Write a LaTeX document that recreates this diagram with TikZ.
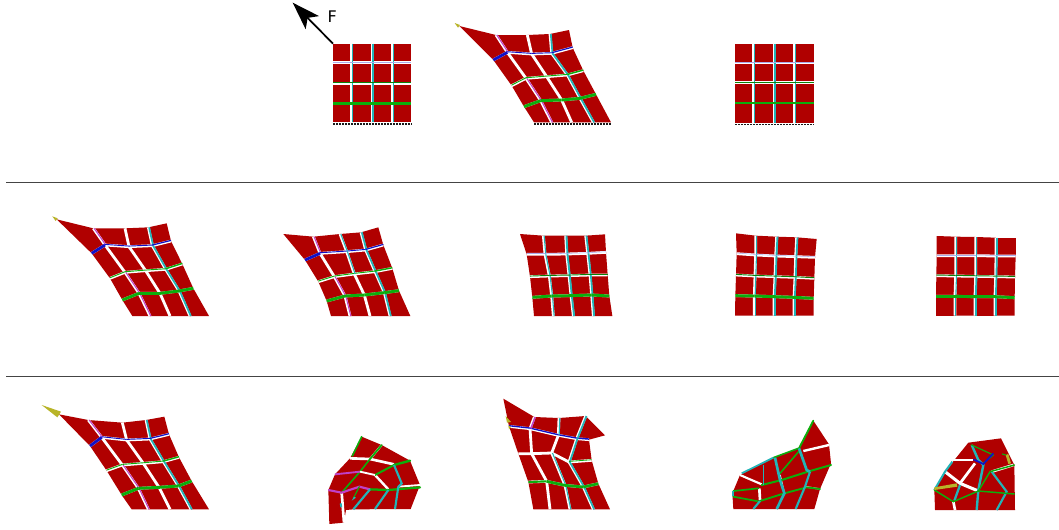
\documentclass[tikz,border=0pt]{standalone}
\usepackage{fontspec}
\setmainfont{DejaVu Sans}
\usetikzlibrary{arrows.meta}
\definecolor{mred}{HTML}{B00000}
\definecolor{mcy}{HTML}{22B4B8}
\definecolor{mgr}{HTML}{0CAE0C}
\definecolor{mbl}{HTML}{1010C8}
\definecolor{mmg}{HTML}{C040C8}
\definecolor{myl}{HTML}{B8B428}
\definecolor{rulec}{HTML}{444444}
\tikzset{
  cellfill/.style={fill=mred},
  gapline/.style={draw=white,line width=2.1pt},
  ground/.style={draw=black!90,line width=1pt,dash pattern=on 1.5pt off .75pt},
  seprule/.style={draw=rulec,line width=.75pt},
  gr/.style={draw=mgr,line width=#1pt,line cap=round},
  cy/.style={draw=mcy,line width=#1pt},
  mg/.style={draw=mmg,line width=#1pt},
  bl/.style={draw=mbl,line width=#1pt},
  wh/.style={draw=white,line width=#1pt},
}
% zoom-space scope: crop origin, 3 zoom units per pixel
\newcommand\zs[2]{\begin{scope}[shift={(#1,#2)},x=.25pt,y=-.25pt]}
\newcommand\ze{\end{scope}}
\newcommand\gridpts[2]{%
  \foreach[count=\k from 0] \pa/\pb in {#2}{%
    \pgfmathtruncatemacro\gr{floor(\k/5)}%
    \pgfmathtruncatemacro\gc{\k-5*\gr}%
    \coordinate (#1-\gr-\gc) at (\pa,\pb);
  }}
\newcommand\meshbase[1]{%
  \foreach \r in {0,1,2,3}{\foreach \c in {0,1,2,3}{%
    \pgfmathtruncatemacro\rr{\r+1}\pgfmathtruncatemacro\cc{\c+1}%
    \fill[cellfill] (#1-\r-\c)--(#1-\r-\cc)--(#1-\rr-\cc)--(#1-\rr-\c)--cycle;
  }}%
  \foreach \r in {1,2,3}{\draw[gapline] (#1-\r-0)--(#1-\r-1)--(#1-\r-2)--(#1-\r-3)--(#1-\r-4);}%
  \foreach \c in {1,2,3}{\draw[gapline] (#1-0-\c)--(#1-1-\c)--(#1-2-\c)--(#1-3-\c)--(#1-4-\c);}%
}
% coloured segments: name, row or column, index list, colour, width(pt)
\newcommand\rowc[5]{\foreach \j in {#3}{\pgfmathtruncatemacro\jj{\j+1}%
  \draw[draw=#4,line width=#5pt] ([yshift=.45pt]#1-#2-\j)--([yshift=.45pt]#1-#2-\jj);}}
\newcommand\rowf[5]{\foreach \j in {#3}{\pgfmathtruncatemacro\jj{\j+1}%
  \draw[draw=#4,line width=#5pt] (#1-#2-\j)--(#1-#2-\jj);}}
\newcommand\colc[5]{\foreach \j in {#3}{\pgfmathtruncatemacro\jj{\j+1}%
  \draw[draw=#4,line width=#5pt] ([xshift=.6pt]#1-\j-#2)--([xshift=.6pt]#1-\jj-#2);}}
\newcommand\regular[1]{%
  \colc{#1}{1}{0,1,2,3}{mcy}{.8}\colc{#1}{2}{0,1,2,3}{mcy}{1.4}\colc{#1}{3}{0,1,2,3}{mcy}{1.3}%
  \rowc{#1}{1}{0,1,2,3}{mbl!35}{.4}\rowc{#1}{2}{0,1,2,3}{mgr!75!black}{.7}\rowf{#1}{3}{0,1,2,3}{mgr}{2.2}}
\newcommand\sheared[1]{%
  \colc{#1}{1}{0,2,3}{mmg}{.8}\colc{#1}{3}{0,1,2,3}{mcy}{1.3}%
  \rowf{#1}{1}{0}{mbl}{2.1}\rowc{#1}{1}{1,2}{mbl}{.7}\rowc{#1}{1}{3}{mbl}{.9}%
  \rowc{#1}{2}{0,1,2}{mgr}{.7}\rowc{#1}{2}{3}{mgr}{1.1}%
  \rowf{#1}{3}{0,1,2,3}{mgr}{2.2}}
\begin{document}
\begin{tikzpicture}[x=.75pt,y=-.75pt]
\useasboundingbox (0,0) rectangle (1059,529);
\fill[white] (0,0) rectangle (1059,529);
% separators
\coordinate (r1a) at (6,182.5); \coordinate (r1b) at (1059,182.5);
\coordinate (r2a) at (6,376.5); \coordinate (r2b) at (1059,376.5);
\draw[seprule] (r1a)--(r1b);
\draw[seprule] (r2a)--(r2b);

% Mesh A: undeformed with force arrow
\zs{280}{0}
\gridpts{a}{159/131,215/131,277/131,338/131,394/131,
159/188,215/188,277/188,338/188,394/188,
159/250,215/250,277/250,338/250,394/250,
159/310,215/310,277/310,338/310,394/310,
159/367,215/367,277/367,338/367,394/367}
\meshbase{a}\regular{a}
\draw[ground] ([yshift=-1.3pt]a-4-0)--([yshift=-1.3pt]a-4-4);
\coordinate (ftip) at (38,8);
\draw[line width=1.3pt,-{Stealth[length=21pt,width=14pt,inset=5pt]}] (a-0-0)--(ftip);
\node[font=\fontsize{12}{14}\selectfont,inner sep=0pt] (flabel) at (157,50) {F};
\ze

% Mesh B
\zs{450}{15}
\gridpts{b}{28/33,138/60,232/60,300/57,357/45,
130/135,172/112,245/117,305/115,368/98,
185/212,228/190,290/185,352/180,400/167,
222/275,272/257,335/255,390/250,438/238,
252/322,305/322,365/322,430/322,483/322}
\meshbase{b}\sheared{b}
\fill[myl] (14,24)--(30,30)--(24,38)--cycle;
\draw[ground] ([yshift=-1.3pt]b-4-0)--([yshift=-1.3pt]b-4-4);
\ze

% Mesh C
\zs{725}{35}
\gridpts{c}{30/27,85/27,147/27,209/27,266/27,
30/84,85/84,147/84,209/84,266/84,
30/143,85/143,147/143,209/143,266/143,
30/204,85/204,147/204,209/204,266/204,
30/263,85/263,147/263,209/263,266/263}
\meshbase{c}\regular{c}
\draw[ground] ([yshift=-1.3pt]c-4-0)--([yshift=-1.3pt]c-4-4);
\ze

% Row 2
\zs{45}{210}
\gridpts{d}{35/28,145/55,240/55,310/52,365/40,
140/130,180/105,252/110,322/107,378/93,
195/205,240/187,302/182,362/178,412/162,
232/270,282/250,345/250,402/243,445/235,
262/318,315/318,375/318,435/318,492/318}
\meshbase{d}\sheared{d}
\fill[myl] (22,19)--(38,25)--(32,33)--cycle;
\ze

\zs{275}{220}
\gridpts{e}{25/42,115/50,195/42,258/37,310/22,
90/120,135/100,215/95,272/90,325/75,
130/185,178/170,238/162,300/155,352/145,
155/243,210/228,268/225,328/218,372/212,
168/288,225/288,285/288,345/288,406/288}
\meshbase{e}\sheared{e}
\colc{e}{2}{0,1}{mcy}{.8}
\ze

\zs{510}{225}
\gridpts{f}{30/27,100/32,167/32,227/32,285/28,
50/88,105/88,170/87,233/85,288/82,
60/155,118/153,177/152,240/150,293/150,
67/217,125/213,183/212,245/210,298/213,
72/273,130/273,190/273,250/273,307/273}
\meshbase{f}\regular{f}
\ze

\zs{725}{225}
\gridpts{g}{33/25,92/32,155/35,215/37,275/42,
35/86,92/90,152/93,212/95,270/97,
33/150,90/153,150/155,210/157,268/160,
31/212,88/213,147/215,207/217,266/220,
30/272,88/272,147/272,207/272,266/272}
\meshbase{g}\regular{g}
\gridpts{h}{635/33,692/35,752/36,813/38,872/38,
635/92,692/92,752/92,813/93,872/93,
634/152,692/153,752/154,812/155,870/156,
633/214,690/214,750/215,810/215,869/218,
633/272,690/272,750/272,810/272,869/272}
\meshbase{h}\regular{h}
\ze

% Row 3
\zs{35}{400}
\gridpts{i}{72/43,160/60,262/68,333/60,388/50,
165/138,200/112,275/120,345/117,402/103,
215/212,262/195,325/190,385/185,432/172,
260/285,310/265,372/262,430/258,470/243,
290/328,340/328,405/328,468/328,522/328}
\meshbase{i}\sheared{i}
\fill[myl] (20,15)--(78,35)--(67,52)--cycle;
\ze

% collapsed mesh 1
\zs{320}{430}
\fill[mred] (125,20)--(185,45)--(270,92)--(300,165)--(272,237)--(100,238)--(78,240)--(72,278)--(28,282)--(25,180)--(45,133)--(90,85)--cycle;
\draw[wh=2] (90,85)--(150,87)--(222,103);
\draw[wh=1.6] (185,45)--(150,87);
\draw[wh=1.8] (165,135)--(205,178);
\draw[wh=2] (65,188)--(72,278);
\draw[wh=1.4] (235,170)--(300,165);
\draw[gr=1.2] (97,78)--(125,20);
\draw[gr=1.4] (150,87)--(185,45);
\draw[gr=1.8] (222,105)--(270,92);
\draw[gr=1.2] (120,125)--(150,87);
\draw[gr=1.2] (65,188)--(120,125);
\draw[gr=1.5] (165,135)--(222,105);
\draw[gr=1.7] (150,178)--(205,180)--(300,172);
\draw[mg=1.6] (25,180)--(65,188)--(118,170)--(150,178);
\draw[mg=1.4] (45,133)--(120,125);
\draw[wh=1.4] (120,125)--(165,135);
\draw[gr=.9] (100,205)--(118,170);
\fill[mcy] (95,212)--(108,203)--(102,200)--cycle;
\draw[cy=1.6] (222,105)--(245,160)--(235,170)--(225,237);
\draw[cy=1.6] (205,180)--(165,237);
\draw[cy=1.6] (150,178)--(100,238);
\draw[cy=1.4] (62,220)--(64,232);
\fill[white] (72,280)--(80,240)--(90,240)--cycle;
\ze

% Mesh K: upper-left folded
\zs{495}{392}
\gridpts{k}{25/20,118/75,192/78,272/72,330/130,
42/103,105/110,190/130,245/140,282/143,
70/185,110/185,170/183,222/210,290/205,
100/270,155/268,210/280,265/285,310/275,
115/352,165/352,225/352,295/352,345/352}
\meshbase{k}
\rowc{k}{1}{0,1,2}{mbl}{1}\rowc{k}{1}{3}{mbl}{1.1}
\colc{k}{1}{0}{mmg}{1.1}
\colc{k}{2}{0,2,3}{mcy}{.8}
\colc{k}{3}{0,1,2,3}{mcy}{1.3}
\rowc{k}{2}{3}{mgr}{.6}
\rowf{k}{3}{0}{mgr}{1.6}\rowf{k}{3}{1,2,3}{mgr}{2.1}
\fill[myl] (32,72)--(48,90)--(36,92)--cycle;
\fill[myl] (40,100)--(48,105)--(42,112)--cycle;
\ze

% collapsed mesh 2
\zs{725}{415}
\fill[mred] (265,17)--(312,88)--(318,145)--(285,222)--(268,282)--(25,282)--(22,235)--(45,180)--(145,128)--(220,100)--cycle;
\draw[wh=1.8] (235,108)--(312,90);
\draw[wh=1.6] (45,180)--(110,208);
\draw[wh=2] (103,220)--(105,255);
\draw[wh=1.1] (165,180)--(178,235);
\draw[wh=1.1] (240,215)--(285,222);
\draw[gr=1.4] (222,100)--(265,17);
\draw[gr=1.2] (165,175)--(225,105);
\draw[gr=1.2] (145,128)--(220,100);
\draw[gr=1.3] (25,228)--(100,220);
\draw[gr=1.3] (25,245)--(105,260);
\draw[gr=1.4] (105,258)--(178,235)--(245,217)--(285,222);
\draw[gr=1.5] (110,210)--(170,195)--(255,168)--(318,150);
\draw[cy=2] (222,100)--(245,165)--(255,170);
\draw[cy=1.6] (255,170)--(240,215)--(212,282);
\draw[cy=2] (150,128)--(165,195)--(178,235)--(155,282);
\draw[cy=1.2] (115,150)--(115,210);
\draw[cy=1.3] (50,175)--(145,128);
\draw[cy=1.6] (105,258)--(85,282);
\draw[cy=1.3] (25,228)--(25,242);
\ze

% collapsed mesh 3
\zs{925}{430}
\fill[mred] (130,38)--(228,25)--(268,105)--(270,240)--(30,240)--(28,180)--(60,125)--cycle;
\draw[wh=2] (85,90)--(145,90);
\draw[wh=2.3] (60,125)--(105,160)--(160,183);
\draw[wh=2] (105,160)--(150,100);
\draw[wh=2] (85,215)--(90,240);
\draw[wh=2] (200,125)--(265,105);
\draw[cy=1.5] (28,180)--(60,125)--(82,95);
\draw[cy=1.7] (105,165)--(88,212);
\draw[cy=1.8] (140,45)--(160,90)--(175,105)--(160,180)--(155,240);
\draw[cy=1.6] (200,125)--(245,185)--(215,240);
\draw[gr=1.1] (28,180)--(85,215)--(160,183)--(268,192);
\draw[gr=1.1] (160,183)--(195,125)--(268,105);
\draw[gr=.9] (140,45)--(205,75)--(175,100);
\draw[bl=1.3] (145,88)--(175,102)--(205,70);
\fill[myl] (28,172)--(95,160)--(97,170)--(28,180)--cycle;
\fill[myl] (242,75)--(250,72)--(258,100)--(250,102)--cycle;
\draw[gr=.9] (232,72)--(242,75);
\ze
\end{tikzpicture}
\end{document}
